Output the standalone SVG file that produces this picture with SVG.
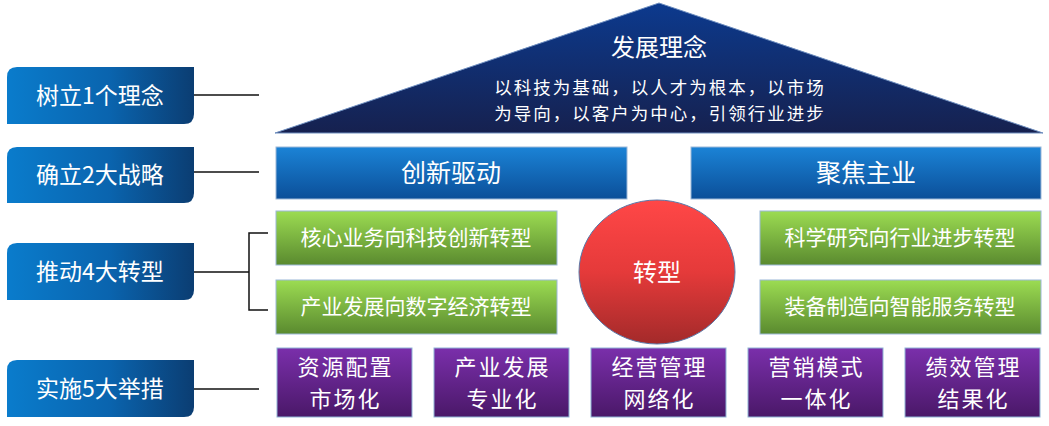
<svg xmlns="http://www.w3.org/2000/svg" width="1049" height="426" viewBox="0 0 1049 426">
<defs>
<linearGradient id="gLabel" x1="0" y1="0" x2="1" y2="0">
<stop offset="0" stop-color="#0a7ccc"/><stop offset="0.55" stop-color="#0a64ae"/><stop offset="1" stop-color="#0b3d72"/>
</linearGradient>
<linearGradient id="gTri" x1="0" y1="0" x2="0" y2="1">
<stop offset="0" stop-color="#0c3a8e"/><stop offset="1" stop-color="#16214f"/>
</linearGradient>
<linearGradient id="gBlue" x1="0" y1="0" x2="0" y2="1">
<stop offset="0" stop-color="#1b83d6"/><stop offset="1" stop-color="#0b4f99"/>
</linearGradient>
<linearGradient id="gGreen" x1="0" y1="0" x2="0" y2="1">
<stop offset="0" stop-color="#9cdc52"/><stop offset="1" stop-color="#5a8a2f"/>
</linearGradient>
<linearGradient id="gPurple" x1="0" y1="0" x2="0" y2="1">
<stop offset="0" stop-color="#7a2fab"/><stop offset="1" stop-color="#4a1868"/>
</linearGradient>
<linearGradient id="gRed" x1="0" y1="0" x2="0" y2="1">
<stop offset="0" stop-color="#ff4747"/><stop offset="0.5" stop-color="#e53a3a"/><stop offset="1" stop-color="#a32a2a"/>
</linearGradient>
</defs>
<style>
text{font-family:"Noto Sans CJK SC","Microsoft YaHei",sans-serif;fill:#fff;text-anchor:middle;}
.lab{fill:url(#gLabel);}
.lt{font-size:23px;}
.bar{fill:url(#gBlue);stroke:#9cb8d8;stroke-width:1;}
.grn{fill:url(#gGreen);stroke:#9cb8d8;stroke-width:1;}
.pur{fill:url(#gPurple);stroke:#8fb4d6;stroke-width:1;}
.bt{font-size:25px;}
.gt{font-size:21px;}
.pt{font-size:22px;letter-spacing:2px;}
.sub{font-size:17.5px;letter-spacing:2px;}
.conn{stroke:#111;stroke-width:1.5;fill:none;}
</style>
<g id="connectors">
<path class="conn" d="M194 95 H259"/>
<path class="conn" d="M194 172 H259"/>
<path class="conn" d="M194 272 H249 M268 233 H249 V310 H268"/>
<path class="conn" d="M194 389 H259"/>
</g>
<g id="label1">
<path class="lab" d="M17 67 H194 V114 Q194 124 184 124 H7 V77 Q7 67 17 67 Z"/>
<text class="lt" x="100" y="104">树立1个理念</text>
</g>
<g id="label2">
<path class="lab" d="M17 147 H194 V193 Q194 203 184 203 H7 V157 Q7 147 17 147 Z"/>
<text class="lt" x="100" y="183">确立2大战略</text>
</g>
<g id="label3">
<path class="lab" d="M17 243 H194 V290 Q194 300 184 300 H7 V253 Q7 243 17 243 Z"/>
<text class="lt" x="100" y="280">推动4大转型</text>
</g>
<g id="label4">
<path class="lab" d="M17 360 H194 V407 Q194 417 184 417 H7 V370 Q7 360 17 360 Z"/>
<text class="lt" x="100" y="397">实施5大举措</text>
</g>
<g id="philosophy">
<path d="M659 3 L1043 133 H275 Z" fill="url(#gTri)" stroke="#6f8fc0" stroke-width="1"/>
<text x="659" y="56" font-size="24">发展理念</text>
<text class="sub" x="660" y="94">以科技为基础，以人才为根本，以市场</text>
<text class="sub" x="660" y="119.5">为导向，以客户为中心，引领行业进步</text>
</g>
<g id="strategy1">
<rect class="bar" x="276" y="147" width="351" height="52"/>
<text class="bt" x="451" y="182">创新驱动</text>
</g>
<g id="strategy2">
<rect class="bar" x="691" y="147" width="350" height="52"/>
<text class="bt" x="866" y="182">聚焦主业</text>
</g>
<g id="trans1">
<rect class="grn" x="276" y="211" width="281" height="54"/>
<text class="gt" x="416" y="245">核心业务向科技创新转型</text>
</g>
<g id="trans2">
<rect class="grn" x="276" y="280" width="281" height="54"/>
<text class="gt" x="416" y="314">产业发展向数字经济转型</text>
</g>
<g id="trans3">
<rect class="grn" x="760" y="211" width="281" height="54"/>
<text class="gt" x="900" y="245">科学研究向行业进步转型</text>
</g>
<g id="trans4">
<rect class="grn" x="760" y="280" width="281" height="54"/>
<text class="gt" x="900" y="314">装备制造向智能服务转型</text>
</g>
<g id="transform">
<ellipse cx="657" cy="272" rx="78" ry="72" fill="url(#gRed)" stroke="#5a78a8" stroke-width="1"/>
<text x="657" y="281" font-size="24">转型</text>
</g>
<g id="measure1">
<rect class="pur" x="277" y="348" width="135" height="69"/>
<text class="pt" x="345.5" y="375">资源配置</text>
<text class="pt" x="345.5" y="407">市场化</text>
</g>
<g id="measure2">
<rect class="pur" x="434" y="348" width="135" height="69"/>
<text class="pt" x="502.5" y="375">产业发展</text>
<text class="pt" x="502.5" y="407">专业化</text>
</g>
<g id="measure3">
<rect class="pur" x="591" y="348" width="135" height="69"/>
<text class="pt" x="659.5" y="375">经营管理</text>
<text class="pt" x="659.5" y="407">网络化</text>
</g>
<g id="measure4">
<rect class="pur" x="748" y="348" width="135" height="69"/>
<text class="pt" x="816.5" y="375">营销模式</text>
<text class="pt" x="816.5" y="407">一体化</text>
</g>
<g id="measure5">
<rect class="pur" x="905" y="348" width="135" height="69"/>
<text class="pt" x="973.5" y="375">绩效管理</text>
<text class="pt" x="973.5" y="407">结果化</text>
</g>
</svg>
